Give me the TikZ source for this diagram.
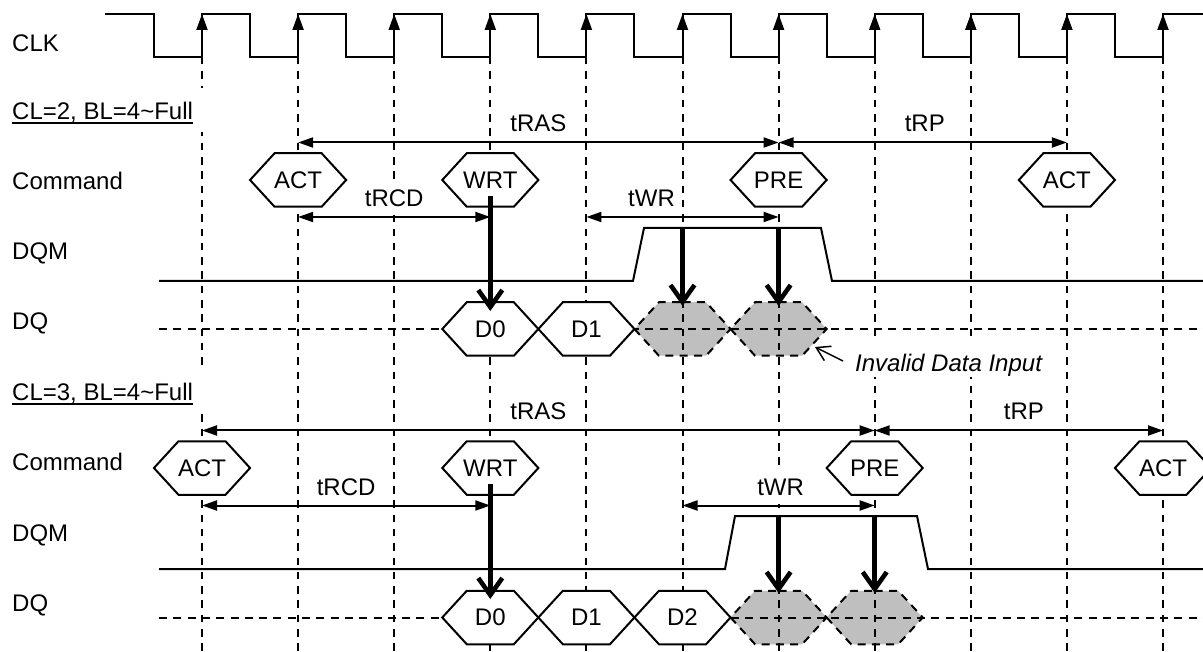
\documentclass[tikz,border=0pt]{standalone}
\usepackage{fontspec}
\setmainfont{Liberation Sans}
\usetikzlibrary{arrows.meta, shapes.symbols}
\newcommand{\cellname}[1]{\makebox[0pt]{#1}}
\tikzset{
    sig/.style={line width=2pt},
    grid/.style={line width=2pt, dash pattern=on 7.5pt off 6.8pt},
    bus/.style={line width=2pt, dash pattern=on 8pt off 6.3pt},
    lbl/.style={anchor=base west, inner sep=0pt},
    cond/.style={anchor=base west, fill=white, inner xsep=10pt, inner ysep=0pt, text height=31pt, text depth=13pt},
    cell/.style={signal, signal to=east and west, signal pointer angle=95, minimum width=96.1pt, minimum height=53.5pt, inner sep=0pt, outer sep=0pt, line width=2pt, draw=black},
    datacell/.style={cell, fill=white},
    badcell/.style={cell, fill=gray!50, dash pattern=on 8pt off 6.3pt},
    span/.style={line width=2pt, {Triangle[length=15pt,width=10pt]}-{Triangle[length=15pt,width=10pt]}},
    hit/.style={line width=4.6pt, -{Straight Barb[length=17pt,width=24pt,line width=4.6pt]}},
    gaptext/.style={anchor=base, yshift=10.5pt, fill=white, inner xsep=6pt, inner ysep=9pt, text height=17pt, text depth=0pt},
}
\begin{document}
\begin{tikzpicture}[x=1pt, y=-1pt, font=\fontsize{24}{28}\selectfont]
\useasboundingbox (0,0) rectangle (1203,652);
\foreach \k in {0,...,10} {
    \coordinate (up\k) at ({202+96.1*\k}, 14);
    \coordinate (lo\k) at ({202+96.1*\k}, 57);
    \coordinate (end\k) at ({202+96.1*\k}, 652);
}
% levels of the arrows and rows
\coordinate (spanA) at (0,142.5);
\coordinate (spanB) at (0,217);
\coordinate (dqA) at (0,329);
\coordinate (cmdA) at (0,180);
\coordinate (spanC) at (0,430.5);
\coordinate (spanD) at (0,505.5);
\coordinate (dqB) at (0,617.5);
\coordinate (cmdB) at (0,468);

% invalid cells go under the grid
\node[badcell] (xa) at (lo5 |- dqA) {\cellname{}};
\node[badcell] (xb) at (lo6 |- dqA) {\cellname{}};
\node[badcell] (xc) at (lo6 |- dqB) {\cellname{}};
\node[badcell] (xd) at (lo7 |- dqB) {\cellname{}};

% grid
\foreach \k in {0,...,10} {
    \draw[grid] (lo\k) -- (end\k);
}

% clock
\draw[sig] (105,14) -| (154,57) -| (lo0) -- (up0) -| ++(48,43) -| (lo1) -- (up1) -| ++(48,43) -| (lo2) -- (up2) -| ++(48,43) -| (lo3) -- (up3) -| ++(48,43) -| (lo4) -- (up4) -| ++(48,43) -| (lo5) -- (up5) -| ++(48,43) -| (lo6) -- (up6) -| ++(48,43) -| (lo7) -- (up7) -| ++(48,43) -| (lo8) -- (up8) -| ++(48,43) -| (lo9) -- (up9) -| ++(48,43) -| (lo10) -- (up10) -- (1203,14);
\foreach \k in {0,...,10} {
    \draw[line width=2pt, -{Triangle[length=16pt,width=11pt]}] (lo\k) -- (up\k);
}

% row labels
\node[lbl] (clk) at (12,51.7) {CLK};
\node[cond] (cla) at (2,119.5) {CL=2, BL=4\char`~Full};
\draw[sig] ([shift={(10pt,-3.2pt)}]cla.base west) -- +(181,0);
\node[lbl] (cmda) at (12,189.5) {Command};
\node[lbl] (dqma) at (12,260) {DQM};
\node[lbl] (dqa) at (12,330) {DQ};
\node[cond] (clb) at (2,401) {CL=3, BL=4\char`~Full};
\draw[sig] ([shift={(10pt,-2.6pt)}]clb.base west) -- +(181,0);
\node[lbl] (cmdb) at (12,471) {Command};
\node[lbl] (dqmb) at (12,541.7) {DQM};
\node[lbl] (dqb) at (12,611.7) {DQ};

% first part
\draw[sig] (159,281) -- (633,281) -- (644,228) -- (821,228) -- (832,281) -- (1203,281);
\draw[bus] (dqA -| 159,0) -- (dqA -| 1203,0);
\node[datacell] (acta) at (lo1 |- cmdA) {\cellname{ACT}};
\node[datacell] (wrta) at (lo3 |- cmdA) {\cellname{WRT}};
\node[datacell] (prea) at (lo6 |- cmdA) {\cellname{PRE}};
\node[datacell] (actb) at (lo9 |- cmdA) {\cellname{ACT}};
\node[datacell] (d0a) at (lo3 |- dqA) {\cellname{D0}};
\node[datacell] (d1a) at (lo4 |- dqA) {\cellname{D1}};
\draw[span] (lo1 |- spanA) -- node[gaptext] (trasa) {tRAS} (lo6 |- spanA);
\draw[span] (lo6 |- spanA) -- node[gaptext, xshift=2pt] (trpa) {tRP} (lo9 |- spanA);
\draw[span] (lo1 |- spanB) -- node[gaptext] (trcda) {tRCD} (lo3 |- spanB);
\draw[span] (lo4 |- spanB) -- node[gaptext, xshift=-31pt] (twra) {tWR} (lo6 |- spanB);
\draw[hit] (lo3 |- 0,196) -- (lo3 |- 0,311);
\draw[hit] (lo5 |- 0,228) -- (lo5 |- 0,306);
\draw[hit] (lo6 |- 0,228) -- (lo6 |- 0,306);

% note
\node[anchor=base west, fill=white, inner sep=0pt, text height=29pt, text depth=5pt, font=\fontsize{24}{28}\selectfont\itshape] (note) at (855,371.7) {Invalid Data Input};
\coordinate (notetail) at (843,361);
\draw[line width=1.5pt, -{Straight Barb[length=13pt,width=16pt]}] (notetail) -- (815,347);

% second part
\draw[sig] (159,569) -- (725,569) -- (735,516) -- (917,516) -- (928,569) -- (1203,569);
\draw[bus] (dqB -| 159,0) -- (dqB -| 1203,0);
\node[datacell] (actc) at (lo0 |- cmdB) {\cellname{ACT}};
\node[datacell] (wrtb) at (lo3 |- cmdB) {\cellname{WRT}};
\node[datacell] (preb) at (lo7 |- cmdB) {\cellname{PRE}};
\node[datacell] (actd) at (lo10 |- cmdB) {\cellname{ACT}};
\node[datacell] (d0b) at (lo3 |- dqB) {\cellname{D0}};
\node[datacell] (d1b) at (lo4 |- dqB) {\cellname{D1}};
\node[datacell] (d2b) at (lo5 |- dqB) {\cellname{D2}};
\draw[span] (lo0 |- spanC) -- node[gaptext] (trasb) {tRAS} (lo7 |- spanC);
\draw[span] (lo7 |- spanC) -- node[gaptext, xshift=5pt] (trpb) {tRP} (lo10 |- spanC);
\draw[span] (lo0 |- spanD) -- node[gaptext] (trcdb) {tRCD} (lo3 |- spanD);
\draw[span] (lo5 |- spanD) -- node[gaptext, xshift=2pt] (twrb) {tWR} (lo7 |- spanD);
\draw[hit] (lo3 |- 0,484) -- (lo3 |- 0,599);
\draw[hit] (lo6 |- 0,516) -- (lo6 |- 0,593);
\draw[hit] (lo7 |- 0,516) -- (lo7 |- 0,593);
\end{tikzpicture}
\end{document}
